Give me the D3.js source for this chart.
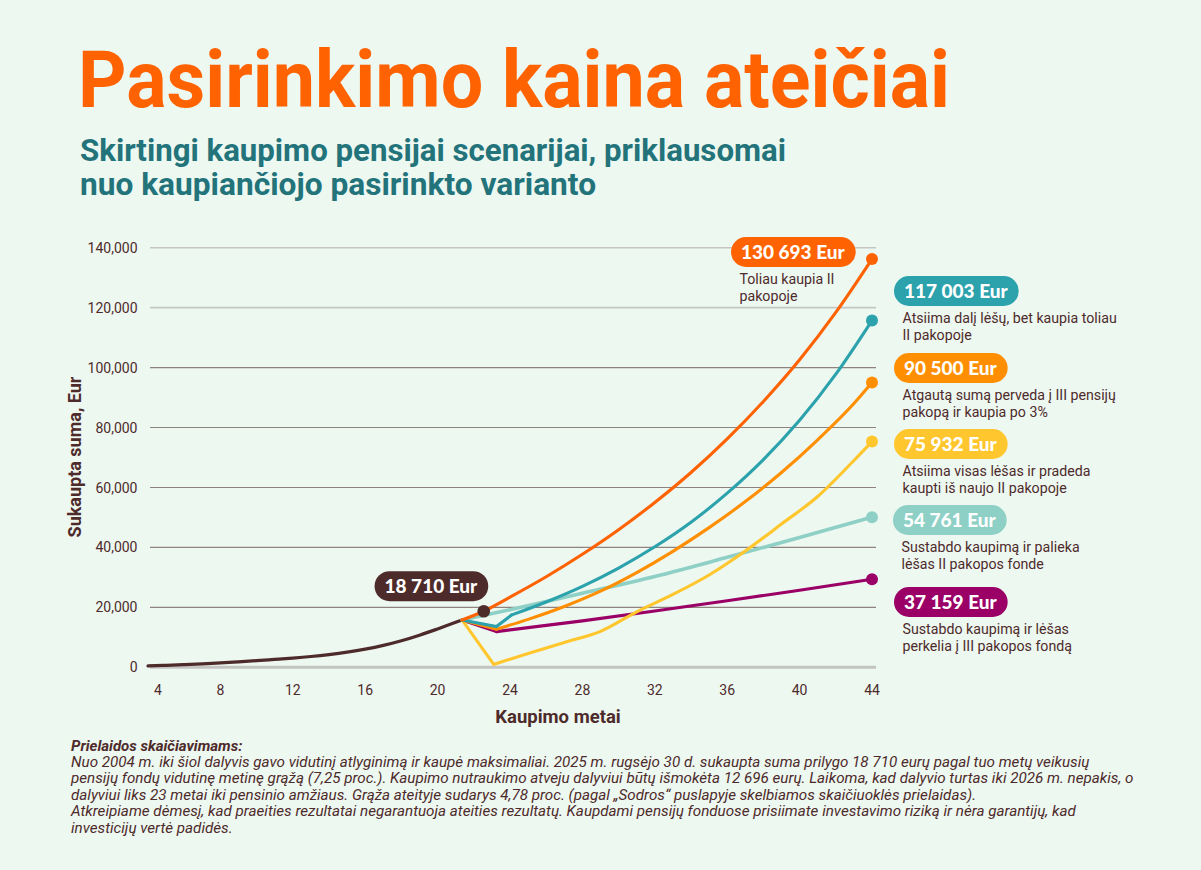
<!DOCTYPE html>
<html><head><meta charset="utf-8">
<script src="https://cdn.jsdelivr.net/npm/d3@7"></script>
<style>
html,body{margin:0;padding:0;background:#edf8f1;}
svg{display:block;}
</style></head><body>
<svg id="c" width="1201" height="870"></svg>
<script>
// ---------- DATA ----------
const titleText = "Pasirinkimo kaina ateičiai";
const subtitleLines = ["Skirtingi kaupimo pensijai scenarijai, priklausomai", "nuo kaupiančiojo pasirinkto varianto"];
const yAxisTitle = "Sukaupta suma, Eur";
const xAxisTitle = "Kaupimo metai";
const xTicks = [4, 8, 12, 16, 20, 24, 28, 32, 36, 40, 44];
const yTicks = [0, 20000, 40000, 60000, 80000, 100000, 120000, 140000];

const historyYears  = [4, 5, 6, 7, 8, 9, 10, 11, 12, 13, 14, 15, 16, 17, 18, 19, 20, 21, 21.35];
const historyValues = [450, 650, 880, 1150, 1480, 1840, 2230, 2650, 3080, 3600, 4250, 5050, 6050, 7300, 8850, 10700, 12800, 15000, 15800];

const currentYear = 22.55, currentValue = 18710, currentLabel = "18 710 Eur";

const keepYears   = [21.35, 22.55, 24, 26, 28, 30, 32, 34, 36, 38, 40, 42, 44];
const keepValues  = [15800, 18710, 23400, 30200, 37700, 45900, 55000, 65000, 76200, 88700, 102600, 118400, 136200];

const partialYears  = [21.35, 23.25, 24.1, 26, 28, 30, 32, 34, 36, 38, 40, 42, 44];
const partialValues = [15800, 13600, 17500, 21800, 27000, 33100, 40200, 48400, 58100, 69300, 82400, 97800, 115700];

const thirdYears  = [21.35, 23.25, 25, 27, 29, 31, 33, 35, 37, 39, 41, 43, 44];
const thirdValues = [15800, 12700, 16000, 20300, 25400, 31600, 38700, 46600, 55300, 65000, 75900, 88000, 95000];

const restartYears  = [21.35, 23.1, 25, 27, 29, 31, 33, 35, 37, 39, 41, 43, 44];
const restartValues = [15800, 1000, 4600, 8300, 12000, 18500, 24300, 30800, 38800, 47800, 57000, 69000, 75300];

const stopYears  = [21.35, 24, 28, 32, 36, 40, 44];
const stopValues = [15800, 19200, 24700, 30300, 36700, 43300, 50100];

const moveYears  = [21.35, 23.25, 28, 32, 36, 40, 44];
const moveValues = [15800, 11900, 15500, 18800, 22200, 25700, 29400];

const seriesAmounts = ["130 693 Eur", "117 003 Eur", "90 500 Eur", "75 932 Eur", "54 761 Eur", "37 159 Eur"];
const seriesDescriptions = [
  ["Toliau kaupia II", "pakopoje"],
  ["Atsiima dalį lėšų, bet kaupia toliau", "II pakopoje"],
  ["Atgautą sumą perveda į III pensijų", "pakopą ir kaupia po 3%"],
  ["Atsiima visas lėšas ir pradeda", "kaupti iš naujo II pakopoje"],
  ["Sustabdo kaupimą ir palieka", "lėšas II pakopos fonde"],
  ["Sustabdo kaupimą ir lėšas", "perkelia į III pakopos fondą"]
];

const noteTitle = "Prielaidos skaičiavimams:";
const noteLines = [
  "Nuo 2004 m. iki šiol dalyvis gavo vidutinį atlyginimą ir kaupė maksimaliai. 2025 m. rugsėjo 30 d. sukaupta suma prilygo 18 710 eurų pagal tuo metų veikusių",
  "pensijų fondų vidutinę metinę grąžą (7,25 proc.). Kaupimo nutraukimo atveju dalyviui būtų išmokėta 12 696 eurų. Laikoma, kad dalyvio turtas iki 2026 m. nepakis, o",
  "dalyviui liks 23 metai iki pensinio amžiaus. Grąža ateityje sudarys 4,78 proc. (pagal „Sodros“ puslapyje skelbiamos skaičiuoklės prielaidas).",
  "Atkreipiame dėmesį, kad praeities rezultatai negarantuoja ateities rezultatų. Kaupdami pensijų fonduose prisiimate investavimo riziką ir nėra garantijų, kad",
  "investicijų vertė padidės."
];

// ---------- STYLE / LAYOUT ----------
const C = {
  bg: "#edf8f1", brown: "#4e2b2b", title: "#ff6200", sub: "#23737b",
  colors: ["#ff6200", "#2ba2ac", "#ff8f00", "#ffc62e", "#8ed0c5", "#9a0066"]
};
const kinks = [0, 2, 1, 1, 0, 1];
const labelBoxes = [[731, 237], [894, 276], [894, 353], [894, 429], [893, 505], [894, 587]];
const drawOrder = [4, 5, 3, 2, 1, 0];

const svg = d3.select("#c");
svg.append("rect").attr("width", 1201).attr("height", 870).attr("fill", C.bg);

const x = d3.scaleLinear().domain([4, 44]).range([148, 872]);
const y = d3.scaleLinear().domain([0, 140000]).range([667.3, 247.7]);

// Title
svg.append("text").attr("x", 78).attr("y", 107).text(titleText)
  .attr("font-family", "Roboto").attr("font-weight", 700).attr("font-size", 80)
  .attr("fill", C.title).attr("textLength", 872).attr("lengthAdjust", "spacingAndGlyphs");
const subW = [706, 516];
subtitleLines.forEach((t, i) => {
  svg.append("text").attr("x", 80).attr("y", 161 + i * 34).text(t)
    .attr("font-family", "Roboto").attr("font-weight", 700).attr("font-size", 30.5)
    .attr("fill", C.sub).attr("textLength", subW[i]).attr("lengthAdjust", "spacingAndGlyphs");
});

// Grid
const g = svg.append("g");
g.selectAll("line.grid").data(yTicks).join("line")
  .attr("x1", 150).attr("x2", 876)
  .attr("y1", d => y(d)).attr("y2", d => y(d))
  .attr("stroke", d => d === 0 ? "#c4c5c2" : (d >= 120000 ? "#c5c6c3" : "#8f8380"))
  .attr("stroke-width", d => d === 0 ? 3 : (d >= 120000 ? 1.6 : 1.1));
g.selectAll("text.yt").data(yTicks).join("text")
  .attr("x", 137.5).attr("y", d => y(d)).attr("dy", "0.36em")
  .attr("text-anchor", "end").attr("font-family", "Roboto").attr("font-size", 14)
  .attr("fill", C.brown).text(d => d3.format(",")(d));
g.selectAll("text.xt").data(xTicks).join("text")
  .attr("x", (d, i) => i === 0 ? x(d) + 6 : x(d)).attr("y", 695)
  .attr("text-anchor", (d, i) => i === 0 ? "start" : "middle")
  .attr("font-family", "Roboto").attr("font-size", 14)
  .attr("fill", C.brown).text(d => d);

svg.append("text").attr("x", 558).attr("y", 723).attr("text-anchor", "middle")
  .attr("font-family", "Roboto").attr("font-weight", 700).attr("font-size", 18.5)
  .attr("fill", C.brown).text(xAxisTitle);
svg.append("text").attr("transform", "translate(81,457) rotate(-90)").attr("text-anchor", "middle")
  .attr("font-family", "Roboto").attr("font-weight", 700).attr("font-size", 18)
  .attr("fill", C.brown).text(yAxisTitle);

// Lines
const lin = d3.line().x(d => x(d[0])).y(d => y(d[1]));
const smooth = d3.line().x(d => x(d[0])).y(d => y(d[1])).curve(d3.curveMonotoneX);

const history = historyYears.map((v, i) => [v, historyValues[i]]);
svg.append("path").attr("d", smooth(history)).attr("fill", "none")
  .attr("stroke", C.brown).attr("stroke-width", 3.2).attr("stroke-linecap", "round");

const seriesYears = [keepYears, partialYears, thirdYears, restartYears, stopYears, moveYears];
const seriesValues = [keepValues, partialValues, thirdValues, restartValues, stopValues, moveValues];
const series = seriesYears.map((ys, i) => ys.map((v, j) => [v, seriesValues[i][j]]));

drawOrder.forEach(i => {
  const pts = series[i], k = kinks[i];
  const col = C.colors[i];
  const sw = i === 4 ? 3.6 : 3.1;
  if (k > 0) {
    svg.append("path").attr("d", lin(pts.slice(0, k + 1))).attr("fill", "none")
      .attr("stroke", col).attr("stroke-width", sw).attr("stroke-linejoin", "miter").attr("stroke-linecap", "round");
  }
  svg.append("path").attr("d", smooth(pts.slice(k))).attr("fill", "none")
    .attr("stroke", col).attr("stroke-width", sw).attr("stroke-linecap", "round");
});
drawOrder.forEach(i => {
  const last = series[i][series[i].length - 1];
  svg.append("circle").attr("cx", x(last[0])).attr("cy", y(last[1])).attr("r", 6).attr("fill", C.colors[i]);
});

svg.append("circle").attr("cx", x(currentYear)).attr("cy", y(currentValue)).attr("r", 6.3).attr("fill", C.brown);

function pill(left, top, text, color) {
  const gg = svg.append("g");
  const r = gg.append("rect").attr("x", left).attr("y", top).attr("height", 30).attr("rx", 15).attr("fill", color);
  const t = gg.append("text").attr("x", left + 10).attr("y", top + 21.7).text(text)
    .attr("font-family", "Lato").attr("font-weight", 900).attr("font-size", 19).attr("fill", "#fff");
  const w = t.node().getComputedTextLength();
  r.attr("width", w + 21);
  return w + 21;
}
{
  const cx = x(currentYear), cy = y(currentValue);
  const t = svg.append("text").text(currentLabel).attr("font-family", "Lato").attr("font-weight", 900).attr("font-size", 19);
  const w = t.node().getComputedTextLength() + 21;
  t.remove();
  pill(cx + 4.5 - w, cy - 40, currentLabel, C.brown);
}

seriesAmounts.forEach((a, i) => {
  const [lx, ty] = labelBoxes[i];
  pill(lx, ty, a, C.colors[i]);
  seriesDescriptions[i].forEach((d, j) => {
    svg.append("text").attr("x", lx + 8.5).attr("y", ty + 47 + j * 16.7).text(d)
      .attr("font-family", "Roboto").attr("font-size", 14.2).attr("fill", C.brown);
  });
});

// Notes
svg.append("text").attr("x", 71).attr("y", 751).text(noteTitle)
  .attr("font-family", "Roboto").attr("font-weight", 700).attr("font-style", "italic")
  .attr("font-size", 15).attr("fill", C.brown);
noteLines.forEach((t, i) => {
  svg.append("text").attr("x", 71).attr("y", 767 + i * 16.4).text(t)
    .attr("font-family", "Roboto").attr("font-style", "italic")
    .attr("font-size", 15.2).attr("fill", C.brown);
});
</script>
</body></html>
